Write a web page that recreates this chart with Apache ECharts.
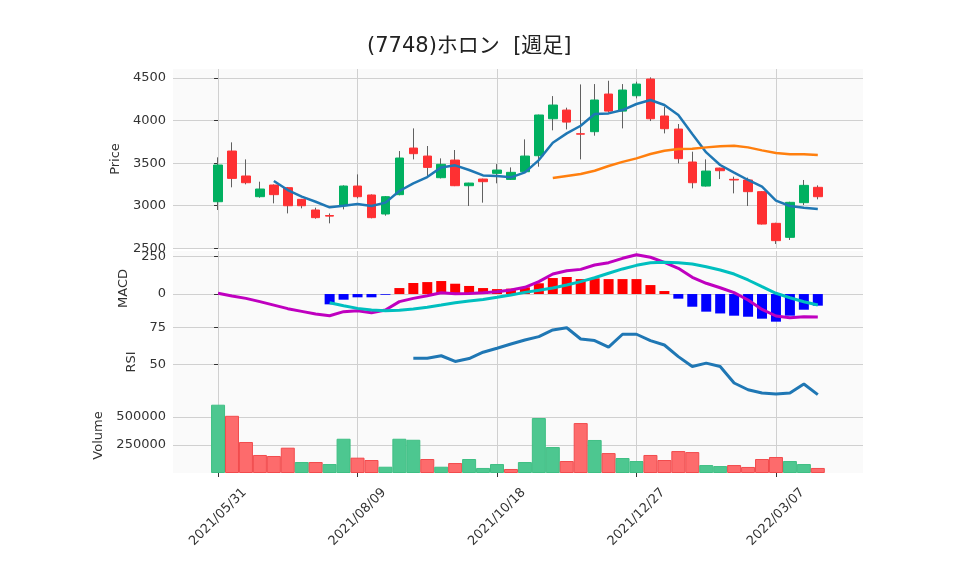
<!DOCTYPE html>
<html>
<head>
<meta charset="utf-8">
<script src="https://cdn.jsdelivr.net/npm/echarts@6/dist/echarts.min.js"></script>
<style>
html, body { margin: 0; padding: 0; background: #fff; }
#charts { width: 958px; height: 575px; }
</style>
</head>
<body>
<div id="charts"></div>
<script>
var dates = ['2021/05/31', '2021/06/07', '2021/06/14', '2021/06/21', '2021/06/28', '2021/07/05', '2021/07/12', '2021/07/19', '2021/07/26', '2021/08/02',
    '2021/08/09', '2021/08/16', '2021/08/23', '2021/08/30', '2021/09/06', '2021/09/13', '2021/09/20', '2021/09/27', '2021/10/04', '2021/10/11',
    '2021/10/18', '2021/10/25', '2021/11/01', '2021/11/08', '2021/11/15', '2021/11/22', '2021/11/29', '2021/12/06', '2021/12/13', '2021/12/20',
    '2021/12/27', '2022/01/03', '2022/01/10', '2022/01/17', '2022/01/24', '2022/01/31', '2022/02/07', '2022/02/14', '2022/02/21', '2022/02/28',
    '2022/03/07', '2022/03/14', '2022/03/21', '2022/03/28'];

var opens = [3047, 3642, 3349, 3106, 3243, 3212, 3075, 2950, 2885, 3000,
    3231, 3126, 2903, 3130, 3677, 3583, 3329, 3536, 3235, 3313,
    3380, 3309, 3399, 3587, 4021, 4123, 3845, 3869, 4311, 4111,
    4291, 4487, 4053, 3900, 3513, 3231, 3442, 3310, 3302, 3165,
    2793, 2629, 3036, 3216];
var closes = [3478, 3321, 3270, 3196, 3130, 3000, 3000, 2860, 2878, 3231,
    3106, 2860, 3106, 3560, 3611, 3450, 3486, 3235, 3266, 3282,
    3419, 3392, 3583, 4065, 4182, 3982, 3840, 4241, 4111, 4358,
    4428, 4021, 3904, 3552, 3270, 3407, 3411, 3302, 3165, 2785,
    2590, 3040, 3239, 3106];
var lows = [2950, 3216, 3251, 3094, 3028, 2910, 2969, 2848, 2793, 2957,
    3086, 2852, 2883, 3122, 3544, 3341, 3320, 3230, 2997, 3036,
    3263, 3302, 3388, 3458, 3885, 3896, 3544, 3822, 4092, 3908,
    4260, 3994, 3849, 3497, 3204, 3225, 3313, 3145, 2997, 2780,
    2551, 2598, 3008, 3075];
var highs = [3568, 3744, 3544, 3282, 3250, 3220, 3080, 2977, 2910, 3240,
    3368, 3133, 3114, 3642, 3908, 3701, 3556, 3654, 3270, 3318,
    3489, 3450, 3779, 4070, 4287, 4151, 4424, 4428, 4467, 4428,
    4456, 4507, 4162, 3959, 3634, 3544, 3446, 3341, 3330, 3170,
    2800, 3047, 3302, 3239];

var ma5 = [null, null, null, null, 3290, 3184, 3106, 3047, 2981, 3000,
    3020, 2997, 3036, 3173, 3263, 3337, 3450, 3474, 3419, 3356,
    3349, 3333, 3392, 3536, 3740, 3849, 3939, 4076, 4084, 4123,
    4194, 4241, 4182, 4065, 3842, 3626, 3478, 3388, 3302, 3223,
    3059, 2997, 2977, 2961];
var ma25 = [null, null, null, null, null, null, null, null, null, null,
    null, null, null, null, null, null, null, null, null, null,
    null, null, null, null, 3325, 3349, 3372, 3411, 3466, 3515,
    3556, 3607, 3646, 3665, 3669, 3685, 3697, 3705, 3685, 3650,
    3619, 3603, 3603, 3595];

var macd = [5, -13, -29, -51, -74, -98, -116, -134, -145, -118,
    -112, -125, -107, -51, -29, -11, 9, 2, 3, 9,
    16, 27, 45, 83, 134, 156, 165, 194, 210, 239,
    263, 246, 212, 172, 112, 72, 42, 9, -40, -103,
    -147, -159, -152, -154];
var signal = [null, null, null, null, null, null, null, null, -58, -78,
    -96, -107, -112, -109, -100, -89, -74, -58, -46, -36,
    -22, -7, 11, 25, 40, 60, 83, 109, 139, 168,
    192, 210, 212, 210, 201, 183, 161, 134, 94, 49,
    5, -25, -52, -74];
var hist = [null, null, null, null, null, null, null, null, -69, -38,
    -22, -22, -5, 40, 74, 80, 87, 69, 54, 40,
    33, 36, 45, 72, 107, 114, 100, 105, 100, 100,
    100, 60, 20, -31, -85, -118, -130, -145, -152, -165,
    -185, -145, -105, -78];

var rsi = [null, null, null, null, null, null, null, null, null, null,
    null, null, null, null, 54.0, 54.0, 55.7, 51.8, 53.8, 58.1,
    60.8, 63.7, 66.4, 68.7, 73.2, 74.7, 67.1, 66.0, 61.5, 70.3,
    70.3, 66.0, 63.0, 55.1, 48.4, 50.7, 48.4, 37.2, 32.6, 30.4,
    29.7, 30.4, 36.5, 29.3];

var volumes = [610000, 511000, 277000, 161000, 152000, 226000, 98000, 98000, 80000, 306000,
    137000, 116000, 56000, 306000, 297000, 125000, 56000, 89000, 125000, 45000,
    80000, 36000, 98000, 491000, 232000, 107000, 446000, 295000, 178000, 134000,
    107000, 161000, 116000, 196000, 187000, 71000, 62000, 71000, 54000, 125000,
    143000, 107000, 80000, 45000];

var xTicks = [0, 10, 20, 30, 40];
var priceTicks = [2500, 3000, 3500, 4000, 4500];
var macdTicks = [0, 250];
var rsiTicks = [50, 75];
var volTicks = [250000, 500000];

var FONT = 'DejaVu Sans';

function pairs(arr) {
    var out = [];
    arr.forEach(function (v, i) {
        if (v !== null) out.push([i, v]);
    });
    return out;
}

function makeX(idx, last) {
    return {
        type: 'value', gridIndex: idx, min: -3.23, max: 46.24,
        axisLine: { show: false },
        axisTick: { show: last, customValues: xTicks, length: 4, lineStyle: { color: '#333' } },
        axisLabel: {
            show: last, customValues: xTicks, rotate: 45, margin: 44,
            align: 'center', verticalAlign: 'middle',
            fontFamily: FONT, fontSize: 13, color: '#333',
            formatter: function (v) { return dates[Math.round(v)]; }
        },
        splitLine: { show: true, lineStyle: { color: '#d0d0d0', width: 1 } }
    };
}

function makeY(idx, name, gap, min, max, ticks) {
    return {
        type: 'value', gridIndex: idx, min: min, max: max,
        name: name, nameLocation: 'middle', nameGap: gap,
        nameTextStyle: { fontFamily: FONT, fontSize: 13, color: '#333' },
        axisLine: { show: false },
        axisTick: { show: true, customValues: ticks, length: 4, lineStyle: { color: '#333' } },
        axisLabel: {
            customValues: ticks, fontFamily: FONT, fontSize: 13, color: '#333', margin: 7,
            formatter: function (v) { return String(v); }
        },
        splitLine: { show: true, lineStyle: { color: '#d0d0d0', width: 1 } }
    };
}

var gridBase = { left: 173, right: 95, show: true, backgroundColor: '#fafafa', borderWidth: 0 };

function initECharts(myChart) {
    var wicks = opens.map(function (o, i) { return [i, o, closes[i], lows[i], highs[i]]; });
    var bodies = opens.map(function (o, i) {
        return [i, o, closes[i], Math.min(o, closes[i]), Math.max(o, closes[i])];
    });
    // volume colour follows close vs previous close
    var volData = volumes.map(function (v, i) {
        var up = i === 0 ? closes[i] >= opens[i] : closes[i] >= closes[i - 1];
        return {
            value: [i, v],
            itemStyle: { color: up ? '#4dc790' : '#fd6b6c', borderColor: up ? '#3fbf84' : '#f24b4d', borderWidth: 1 }
        };
    });

    var option = {
        animation: false,
        title: {
            text: '(7748)ホロン  [週足]',
            left: 362, top: 31,
            textStyle: { fontFamily: FONT + ", 'Noto Sans CJK JP'", fontSize: 21, fontWeight: 'normal', color: '#222' }
        },
        grid: [
            Object.assign({ top: 69, height: 180 }, gridBase),
            Object.assign({ top: 251, height: 75 }, gridBase),
            Object.assign({ top: 326, height: 72 }, gridBase),
            Object.assign({ top: 398, height: 75 }, gridBase)
        ],
        xAxis: [makeX(0, false), makeX(1, false), makeX(2, false), makeX(3, true)],
        yAxis: [
            makeY(0, 'Price', 44, 2492, 4605, priceTicks),
            makeY(1, 'MACD', 37, -214, 288, macdTicks),
            makeY(2, 'RSI', 29, 27, 75.9, rsiTicks),
            makeY(3, 'Volume', 62, 0, 670000, volTicks)
        ],
        series: [
            {
                type: 'candlestick', xAxisIndex: 0, yAxisIndex: 0, data: wicks, barWidth: 1,
                itemStyle: { color: '#606060', color0: '#606060', borderColor: '#606060', borderColor0: '#606060', borderWidth: 1 }
            },
            {
                type: 'candlestick', xAxisIndex: 0, yAxisIndex: 0, data: bodies, barWidth: 9,
                itemStyle: { color: '#00b060', color0: '#fe3032', borderColor: '#00b060', borderColor0: '#fe3032', borderWidth: 1 }
            },
            {
                type: 'line', xAxisIndex: 0, yAxisIndex: 0, data: pairs(ma5), symbol: 'none',
                lineStyle: { color: '#1f77b4', width: 2.5 }
            },
            {
                type: 'line', xAxisIndex: 0, yAxisIndex: 0, data: pairs(ma25), symbol: 'none',
                lineStyle: { color: '#ff7f0e', width: 2.5 }
            },
            {
                type: 'bar', xAxisIndex: 1, yAxisIndex: 1, data: pairs(hist), barWidth: 10,
                itemStyle: { color: function (p) { return p.value[1] >= 0 ? '#ff0000' : '#0000ff'; } }
            },
            {
                type: 'line', xAxisIndex: 1, yAxisIndex: 1, data: pairs(macd), symbol: 'none',
                lineStyle: { color: '#bf00bf', width: 3 }
            },
            {
                type: 'line', xAxisIndex: 1, yAxisIndex: 1, data: pairs(signal), symbol: 'none',
                lineStyle: { color: '#00bfbf', width: 3 }
            },
            {
                type: 'line', xAxisIndex: 2, yAxisIndex: 2, data: pairs(rsi), symbol: 'none',
                lineStyle: { color: '#1f77b4', width: 3 }
            },
            {
                type: 'bar', xAxisIndex: 3, yAxisIndex: 3, data: volData, barWidth: 14
            }
        ]
    };

    myChart.setOption(option);
}

window.onload = function () {
    var myChart = echarts.init(document.getElementById('charts'));
    initECharts(myChart);
};
</script>
</body>
</html>
